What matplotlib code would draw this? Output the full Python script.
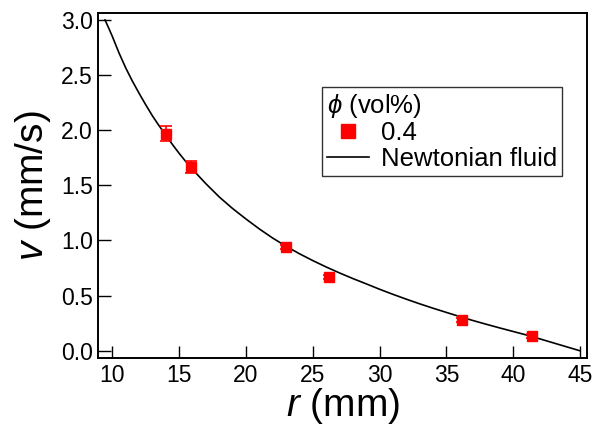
import matplotlib
matplotlib.use("Agg")
import matplotlib.pyplot as plt
from matplotlib.lines import Line2D

plt.rcParams["font.family"] = ["Liberation Sans", "DejaVu Sans"]
plt.rcParams["mathtext.fontset"] = "custom"
plt.rcParams["mathtext.it"] = "Liberation Sans:italic"
plt.rcParams["mathtext.rm"] = "Liberation Sans"

# measured points (phi = 0.4 vol%)
r_data = [14.0, 15.9, 23.0, 26.2, 36.2, 41.4]
v_data = [1.97, 1.67, 0.94, 0.67, 0.28, 0.135]
v_err = [0.07, 0.055, 0.02, 0.02, 0.015, 0.015]

# Newtonian fluid curve
r_newt = [9.45, 9.75, 10, 10.5, 11, 11.5, 12, 12.5, 13, 13.5, 14, 14.5, 15,
          15.5, 16, 17, 18, 19, 20, 21, 22, 23, 24, 25, 26, 27, 28, 29, 30,
          31, 32, 33, 34, 35, 36, 37, 38, 39, 40, 41, 42, 43, 44, 45]
v_newt = [3.0, 2.92, 2.85, 2.70, 2.565, 2.445, 2.335, 2.23, 2.13, 2.04, 1.955,
          1.87, 1.79, 1.715, 1.645, 1.515, 1.395, 1.29, 1.195, 1.105, 1.022,
          0.948, 0.88, 0.818, 0.76, 0.706, 0.655, 0.607, 0.558, 0.512, 0.468,
          0.426, 0.386, 0.348, 0.31, 0.274, 0.24, 0.207, 0.175, 0.143, 0.108,
          0.072, 0.036, 0.0]

fig = plt.figure(figsize=(6.01, 4.36), dpi=100)
ax = fig.add_axes([0.1636, 0.178, 0.8136, 0.7915])

ax.plot(r_newt, v_newt, color="black", lw=1.2, zorder=2)
ax.errorbar(r_data, v_data, yerr=v_err, fmt="s", color="red", ms=7.7,
            mec="red", ecolor="red", elinewidth=1.2, capsize=4, capthick=1.2,
            zorder=3)

ax.set_xlim(8.95, 45.55)
ax.set_ylim(-0.069, 3.06)
ax.set_xticks([10, 15, 20, 25, 30, 35, 40, 45])
ax.set_yticks([0.0, 0.5, 1.0, 1.5, 2.0, 2.5, 3.0])
ax.set_yticklabels(["0.0", "0.5", "1.0", "1.5", "2.0", "2.5", "3.0"])

ax.tick_params(direction="in", length=9, width=1.0, labelsize=16.5, pad=4,
               top=False, right=False)
for s in ax.spines.values():
    s.set_linewidth(1.4)

ax.set_xlabel(r"$r$ (mm)", fontsize=28, labelpad=-1)
ax.set_ylabel(r"$v$ (mm/s)", fontsize=28, labelpad=6)

handles = [Line2D([], [], ls="none", marker="s", color="red", ms=10),
           Line2D([], [], color="black", lw=1.2)]
leg = ax.legend(handles, ["0.4", "Newtonian fluid"], title=r"$\phi$ (vol%)",
                loc="upper left", bbox_to_anchor=(0.457, 0.787),
                fontsize=18.5, title_fontsize=18.5, frameon=True,
                fancybox=False, edgecolor="black", borderpad=0.2,
                handlelength=1.65, handletextpad=0.45, labelspacing=0.05,
                borderaxespad=0)
leg.get_frame().set_linewidth(1.0)
leg._legend_box.align = "left"

fig.savefig("out.png", dpi=100)
